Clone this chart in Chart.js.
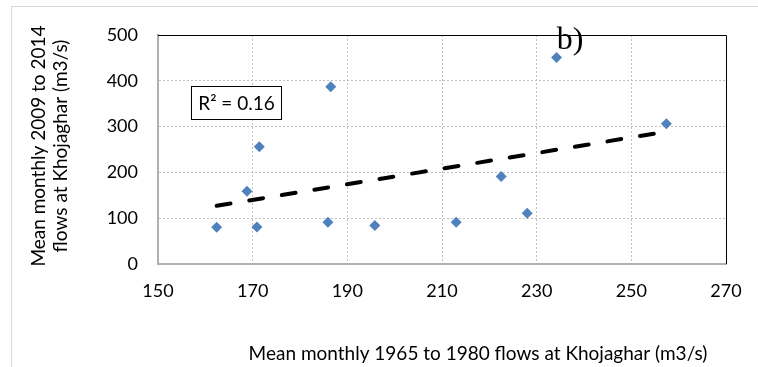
<!DOCTYPE html>
<html><head><meta charset="utf-8">
<script src="https://cdn.jsdelivr.net/npm/chart.js@4.4.1/dist/chart.umd.min.js"></script>
<style>html,body{margin:0;padding:0;background:#fff;}#wrap{width:758px;height:367px;position:relative;}</style>
</head><body><div id="wrap"><canvas id="c" width="758" height="367"></canvas></div>
<script>
// Data
const xValues = [162.4, 168.8, 171.4, 170.9, 185.9, 186.5, 195.8, 213.0, 222.5, 228.0, 234.2, 257.4];
const yValues = [80, 159, 256, 81, 91, 387, 84, 91, 191, 111, 451, 306];
const trendX = [162.4, 257.4];
const trendY = [127, 289];
const xTicks = [150, 170, 190, 210, 230, 250, 270];
const yTicks = [0, 100, 200, 300, 400, 500];
const xTitle = 'Mean monthly 1965 to 1980 flows at Khojaghar (m3/s)';
const yTitleLines = ['Mean monthly 2009 to 2014', 'flows at Khojaghar (m3/s)'];
const r2Label = 'R² = 0.16';
const panelLabel = 'b)';

const FONT = 'Lato, "Open Sans", sans-serif';

const deco = {
  id: 'deco',
  beforeDraw(chart) {
    const ctx = chart.ctx;
    ctx.save();
    ctx.fillStyle = '#fff';
    ctx.fillRect(0, 0, chart.width, chart.height);
    ctx.strokeStyle = '#d9d9d9';
    ctx.lineWidth = 1;
    ctx.strokeRect(11.5, 6.5, chart.width + 20, chart.height + 20);
    ctx.restore();
  },
  afterDatasetsDraw(chart) {
    const ctx = chart.ctx;
    const a = chart.chartArea;
    ctx.save();
    // top and right plot border
    ctx.strokeStyle = '#000';
    ctx.lineWidth = 1;
    ctx.beginPath();
    ctx.moveTo(a.left, a.top + 0.5);
    ctx.lineTo(a.right + 0.5, a.top + 0.5);
    ctx.lineTo(a.right + 0.5, a.bottom);
    ctx.stroke();
    // R2 box
    ctx.fillStyle = '#fff';
    ctx.fillRect(191, 86, 90, 33);
    ctx.strokeStyle = '#000';
    ctx.strokeRect(191.5, 86.5, 90, 33);
    ctx.fillStyle = '#000';
    ctx.font = '19px ' + FONT;
    ctx.textAlign = 'center';
    ctx.textBaseline = 'alphabetic';
    ctx.fillText(r2Label, 236.5, 110);
    // panel label
    ctx.font = '32px "Liberation Serif", "DejaVu Serif", serif';
    ctx.fillText(panelLabel, 570, 49);
    // axis titles
    ctx.font = '19px ' + FONT;
    ctx.fillText(xTitle, 478, 360);
    ctx.save();
    ctx.translate(45, 146);
    ctx.rotate(-Math.PI / 2);
    ctx.fillText(yTitleLines[0], 0, 0);
    ctx.restore();
    ctx.save();
    ctx.translate(67, 146);
    ctx.rotate(-Math.PI / 2);
    ctx.fillText(yTitleLines[1], 0, 0);
    ctx.restore();
    ctx.restore();
  }
};

new Chart(document.getElementById('c'), {
  type: 'scatter',
  data: {
    datasets: [
      {
        type: 'line',
        data: trendX.map((x, i) => ({ x, y: trendY[i] })),
        borderColor: '#000',
        borderWidth: 4,
        borderDash: [14, 19],
        borderCapStyle: 'round',
        pointRadius: 0,
        fill: false,
        order: 1
      },
      {
        data: xValues.map((x, i) => ({ x, y: yValues[i] })),
        pointStyle: 'rectRot',
        pointRadius: 5.5,
        backgroundColor: '#4f81bd',
        borderColor: '#4f81bd',
        borderWidth: 0,
        order: 0
      }
    ]
  },
  plugins: [deco],
  options: {
    responsive: false,
    animation: false,
    events: [],
    layout: { padding: { left: 12, top: 35, right: 32, bottom: 0 } },
    plugins: { legend: { display: false }, tooltip: { enabled: false } },
    scales: {
      x: {
        type: 'linear', min: 150, max: 270,
        afterBuildTicks: s => { s.ticks = xTicks.map(v => ({ value: v })); },
        afterFit: s => { s.height = 103; },
        grid: { color: '#c0c0c0', lineWidth: 1, drawTicks: false },
        border: { color: '#b0b0b0', width: 2, dash: [2, 2] },
        ticks: { padding: 16, color: '#000', font: { family: FONT, size: 18 }, maxRotation: 0 }
      },
      y: {
        type: 'linear', min: 0, max: 500,
        afterBuildTicks: s => { s.ticks = yTicks.map(v => ({ value: v })); },
        afterFit: s => { s.width = 146; },
        grid: { color: '#c0c0c0', lineWidth: 1, drawTicks: false },
        border: { color: '#b0b0b0', width: 2, dash: [2, 2] },
        ticks: { padding: 20, color: '#000', font: { family: FONT, size: 18 } }
      }
    }
  }
});
</script></body></html>
